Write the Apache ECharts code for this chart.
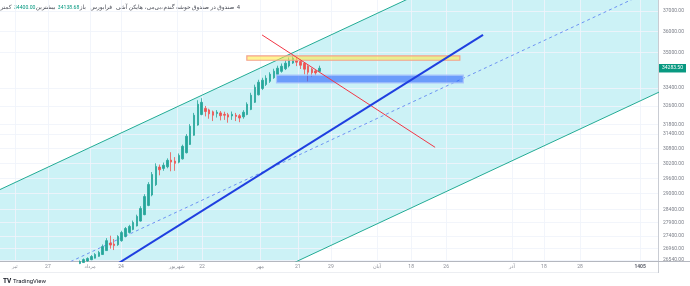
<!DOCTYPE html>
<html>
<head>
<meta charset="utf-8">
<script src="https://cdn.jsdelivr.net/npm/echarts@6/dist/echarts.min.js"></script>
<style>
  html, body { margin: 0; padding: 0; background: #fff; overflow: hidden; }
  #chart { width: 690px; height: 286px; }
</style>
</head>
<body>
<div id="chart"></div>
<script>
// bar index of the first visible candle (x axis counts trading days)
const firstBar = 20;
// heikin ashi candles: [open, close, low, high]
const candles = [
  [26380, 26460, 26330, 26500], [26420, 26490, 26400, 26530], [26455, 26560, 26440, 26600],
  [26510, 26600, 26490, 26640], [26555, 26670, 26540, 26720], [26610, 26740, 26600, 26790],
  [26675, 26810, 26660, 26870], [26740, 27025, 26730, 27100], [26880, 27240, 26870, 27330],
  [27150, 27080, 26950, 27420], [27115, 27060, 26900, 27300], [27090, 27390, 27050, 27440],
  [27240, 27535, 27200, 27600], [27390, 27685, 27360, 27740], [27540, 27760, 27500, 27820],
  [27650, 27910, 27620, 27980], [27780, 28135, 27760, 28200], [27960, 28435, 27940, 28520],
  [28200, 28890, 28180, 28980], [28550, 29360, 28520, 29450], [28950, 29755, 28900, 29850],
  [29350, 30075, 29300, 30200], [30050, 29940, 29720, 30150], [29995, 30120, 29900, 30230],
  [30060, 30320, 30000, 30400], [30330, 30250, 29880, 30650], [30290, 30200, 29900, 30450],
  [30245, 30520, 30200, 30600], [30380, 30890, 30350, 30960], [30630, 31310, 30600, 31400],
  [30970, 31730, 30950, 31820], [31350, 32200, 31330, 32300], [31780, 32675, 31750, 32850],
  [32230, 32760, 32200, 32940], [32495, 32360, 32150, 32600], [32430, 32260, 32050, 32480],
  [32345, 32200, 31950, 32400], [32270, 32330, 32100, 32420], [32300, 32180, 31980, 32380],
  [32240, 32200, 32000, 32350], [32220, 32120, 31880, 32300], [32170, 32240, 32000, 32360],
  [32205, 32150, 31950, 32300], [32180, 32080, 31900, 32250], [32130, 32330, 32050, 32420],
  [32230, 32675, 32200, 32760], [32450, 33070, 32420, 33180], [32760, 33425, 32730, 33540],
  [33090, 33650, 33060, 33760], [33370, 33740, 33300, 33850], [33550, 33830, 33480, 33960],
  [33690, 34010, 33620, 34100], [33850, 34145, 33800, 34260], [34000, 34285, 33950, 34400],
  [34140, 34375, 34080, 34500], [34260, 34515, 34200, 34640], [34390, 34655, 34320, 34780],
  [34520, 34745, 34480, 34880], [34630, 34560, 34380, 34800], [34595, 34420, 34250, 34700],
  [34510, 34240, 34000, 34560], [34375, 34100, 33690, 34420], [34240, 34080, 33900, 34300],
  [34160, 34070, 33950, 34200], [34138.68, 34283.5, 34138.68, 34400]
];
const lastClose = 34283.5;

// price scale ticks (log axis)
const yTicks = [37000, 36000, 35000, 33400, 32600, 31800, 31400, 30800, 30200, 29600,
  29000, 28400, 27900, 27400, 26960, 26540];
// time axis labels, placed at bar index
const xTickPos = [3.9, 12.6, 23.7, 31.8, 46.5, 53.1, 68.4, 78.3, 87.0, 99.1, 108.1, 117.3,
  134.6, 143.0, 152.5, 168.3];
const xTickLabels = ['تیر', '27', 'مرداد', '24', 'شهریور', '22', 'مهر', '21', '29', 'آبان',
  '18', '26', 'آذر', '18', '28', '1405'];

// drawings: [bar, price] anchor points
const channelUpper = [[-30, 27160], [210, 47970]];
const channelLower = [[-30, 20510], [210, 36230]];
const channelMid = [[-30, 23610], [210, 41690]];
const trendBlue = [[25, 25920], [127, 35840]];
const trendRed = [[68.9, 35840], [114.4, 30850]];
const zoneOrange = [[64.9, 34850], [120.9, 34650]];
const zoneBlue = [[72.7, 33965], [121.8, 33620]];

const UP = '#26a69a';
const DOWN = '#ef5350';
const FONT = 'Roboto, "DejaVu Sans", sans-serif';
const TITLE_FONT = '5.8px ' + FONT;
const NUM_FONT = '5.1px ' + FONT;

// legend pieces, right to left, gap = space before the next piece
const titleParts = [
  { text: '4', gap: 2.5 },
  { text: 'صندوق در صندوق خوشه گندم', gap: 0.5 },
  { text: '،بی‌می،', gap: 2 },
  { text: 'هایکن آشی', gap: 4 },
  { text: 'فرابورس', gap: 4 },
  { text: 'باز', gap: 0.5 },
  { text: '34138.68', gap: 2.5, num: true },
  { text: 'بیشترین', gap: 0.5 },
  { text: '34400.00', gap: 2.5, num: true },
  { text: 'کمترین', gap: 0.5 },
  { text: '34138.68', gap: 2.5, num: true },
  { text: 'بسته', gap: 0.5 },
  { text: '34283.50', gap: 2.5, num: true }
];

let chart = echarts.init(document.getElementById('chart'), null, { renderer: 'canvas' });

function renderChannel(params, api) {
  const pts = [
    api.coord(channelUpper[0]), api.coord(channelUpper[1]),
    api.coord(channelLower[1]), api.coord(channelLower[0])
  ];
  return {
    type: 'polygon',
    shape: { points: pts },
    style: { fill: 'rgba(0, 188, 212, 0.2)' }
  };
}

// lay the legend out from its right end like the rtl original
const measure = document.createElement('canvas').getContext('2d');
let cursor = 240;
const graphics = titleParts.map(p => {
  const font = p.num ? NUM_FONT : TITLE_FONT;
  measure.font = font;
  const x = cursor;
  cursor -= measure.measureText(p.text).width + p.gap;
  return {
    type: 'text',
    x: x,
    y: 8,
    silent: true,
    style: {
      text: p.text,
      align: 'right',
      verticalAlign: 'middle',
      fill: p.num ? '#089981' : '#4a4d57',
      font: font
    }
  };
});
graphics.push(
  { type: 'line', shape: { x1: 658.5, y1: 0, x2: 658.5, y2: 273 }, style: { stroke: '#c9ccd3', lineWidth: 1 }, silent: true },
  { type: 'line', shape: { x1: 0, y1: 261.5, x2: 690, y2: 261.5 }, style: { stroke: '#b4b7bf', lineWidth: 1 }, silent: true },
  { type: 'line', shape: { x1: 0, y1: 272.5, x2: 658, y2: 272.5 }, style: { stroke: '#eceef2', lineWidth: 1 }, silent: true },
  { type: 'text', x: 3, y: 281, silent: true, style: { text: 'TV', font: 'bold 6.5px ' + FONT, fill: '#131722', verticalAlign: 'middle' } },
  { type: 'text', x: 13, y: 281, silent: true, style: { text: 'TradingView', font: '6px ' + FONT, fill: '#131722', verticalAlign: 'middle' } }
);

const option = {
  animation: false,
  backgroundColor: '#ffffff',
  grid: { left: 0, right: 32, top: 0, bottom: 25 },
  xAxis: {
    type: 'value',
    min: 0,
    max: 173,
    axisLine: { show: false },
    axisTick: { show: false },
    splitLine: { show: false },
    axisLabel: {
      customValues: xTickPos,
      margin: 3,
      fontSize: 5,
      fontFamily: FONT,
      color: '#8a8d96',
      formatter: function (v) {
        const i = xTickPos.findIndex(p => Math.abs(p - v) < 0.01);
        if (i < 0) return '';
        return xTickLabels[i] === '1405' ? '{b|1405}' : xTickLabels[i];
      },
      rich: { b: { fontSize: 5, fontWeight: 'bold', color: '#5d606b', fontFamily: FONT } }
    }
  },
  yAxis: {
    type: 'log',
    position: 'right',
    min: 26510,
    max: 37550,
    axisLine: { show: false },
    axisTick: { show: false },
    axisLabel: { show: false },
    splitLine: { show: false }
  },
  graphic: graphics,
  series: [
    {
      type: 'custom',
      name: 'channel',
      renderItem: renderChannel,
      data: [0],
      clip: true,
      silent: true,
      z: 1
    },
    {
      type: 'line',
      name: 'hgrid',
      data: [],
      silent: true,
      markLine: {
        z: 2,
        silent: true,
        symbol: ['none', 'none'],
        lineStyle: { color: 'rgba(240, 243, 250, 0.85)', width: 1, type: 'solid' },
        label: {
          position: 'end',
          distance: 5,
          fontSize: 5,
          fontFamily: FONT,
          color: '#7d808a',
          formatter: p => Number(p.value).toFixed(2)
        },
        data: yTicks.map(v => ({ yAxis: v }))
      }
    },
    {
      type: 'line',
      name: 'vgrid',
      data: [],
      silent: true,
      markLine: {
        z: 2,
        silent: true,
        symbol: ['none', 'none'],
        lineStyle: { color: 'rgba(240, 243, 250, 0.85)', width: 1, type: 'solid' },
        label: { show: false },
        data: xTickPos.map(v => ({ xAxis: v }))
      }
    },
    {
      type: 'line', name: 'upper', data: channelUpper, symbol: 'none', silent: true, z: 3,
      lineStyle: { color: '#22ab94', width: 1 }
    },
    {
      type: 'line', name: 'lower', data: channelLower, symbol: 'none', silent: true, z: 3,
      lineStyle: { color: '#22ab94', width: 1 }
    },
    {
      type: 'line', name: 'middle', data: channelMid, symbol: 'none', silent: true, z: 3,
      lineStyle: { color: '#6d93f2', width: 1, type: [3, 3] }
    },
    {
      type: 'candlestick',
      name: 'candles',
      data: candles.map((c, i) => [firstBar + i].concat(c)),
      encode: { x: 0, y: [1, 2, 3, 4] },
      barWidth: 2,
      z: 4,
      itemStyle: {
        color: UP, color0: DOWN,
        borderColor: UP, borderColor0: DOWN,
        borderWidth: 0.8
      }
    },
    {
      type: 'line',
      name: 'last',
      data: [],
      silent: true,
      markLine: {
        z: 8,
        silent: true,
        symbol: ['none', 'none'],
        lineStyle: { color: 'transparent', width: 0 },
        label: {
          show: true,
          position: 'end',
          distance: 1,
          padding: [2, 3, 1.5, 3],
          backgroundColor: '#089981',
          color: '#ffffff',
          fontSize: 5,
          fontFamily: FONT,
          formatter: p => Number(p.value).toFixed(2)
        },
        data: [{ yAxis: lastClose }]
      }
    },
    {
      type: 'line', name: 'red', data: trendRed, symbol: 'none', silent: true, z: 5,
      lineStyle: { color: '#f23645', width: 1 }
    },
    {
      type: 'line', name: 'blue', data: trendBlue, symbol: 'none', silent: true, z: 5,
      lineStyle: { color: '#1f3fe0', width: 2 },
      markArea: {
        z: 5,
        silent: true,
        data: [
          [{ coord: zoneOrange[0], itemStyle: { color: 'rgba(255, 235, 59, 0.55)', borderColor: '#f5a18a', borderWidth: 1.2 } },
           { coord: zoneOrange[1] }],
          [{ coord: zoneBlue[0], itemStyle: { color: 'rgba(41, 98, 255, 0.6)', borderColor: '#a8c4fb', borderWidth: 1.2 } },
           { coord: zoneBlue[1] }]
        ]
      }
    }
  ]
};

chart.setOption(option);
</script>
</body>
</html>
